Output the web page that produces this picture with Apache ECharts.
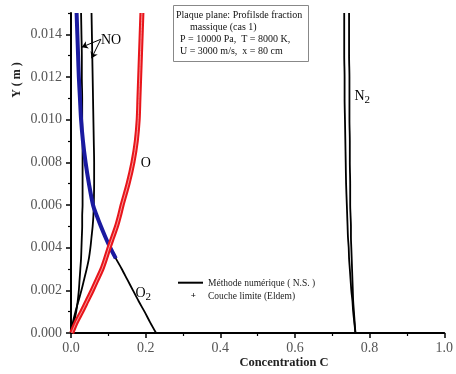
<!DOCTYPE html>
<html>
<head>
<meta charset="utf-8">
<script src="https://cdn.jsdelivr.net/npm/echarts@6/dist/echarts.min.js"></script>
<style>
  html, body { margin: 0; padding: 0; background: #fff; }
  #chart { width: 456px; height: 374px; }
</style>
</head>
<body>
<div id="chart"></div>
<script>
// Wall-normal positions (m) at which the mass-fraction profiles are sampled
const yLevels = [0, 0.0005, 0.001, 0.0015, 0.002, 0.0025, 0.003, 0.0035, 0.004, 0.0045, 0.005,
                 0.0055, 0.006, 0.007, 0.008, 0.009, 0.010, 0.011, 0.012, 0.013, 0.014, 0.015];

// Numerical (N.S.) mass fractions
const cO2 = [0.228, 0.212, 0.197, 0.181, 0.166, 0.151, 0.136, 0.120, 0.105, 0.092, 0.080,
             0.069, 0.059, 0.048, 0.039, 0.032, 0.027, 0.024, 0.021, 0.019, 0.017, 0.015];
const cO  = [0.002, 0.014, 0.029, 0.043, 0.057, 0.070, 0.083, 0.093, 0.102, 0.112, 0.122,
             0.130, 0.137, 0.153, 0.166, 0.175, 0.180, 0.182, 0.184, 0.186, 0.188, 0.190];
const cNOa = [0.000, 0.008, 0.014, 0.018, 0.021, 0.023, 0.025, 0.027, 0.028, 0.029, 0.030,
              0.030, 0.031, 0.031, 0.031, 0.031, 0.030, 0.030, 0.029, 0.029, 0.028, 0.027];
const cNOb = [0.000, 0.005, 0.012, 0.020, 0.028, 0.035, 0.042, 0.048, 0.052, 0.055, 0.058,
              0.060, 0.061, 0.062, 0.062, 0.061, 0.060, 0.059, 0.058, 0.057, 0.056, 0.055];
const cN2a = [0.762, 0.759, 0.756, 0.754, 0.751, 0.749, 0.747, 0.745, 0.744, 0.742, 0.741,
              0.740, 0.739, 0.737, 0.736, 0.735, 0.734, 0.733, 0.733, 0.732, 0.732, 0.732];
const cN2b = [0.762, 0.760, 0.758, 0.756, 0.755, 0.754, 0.753, 0.752, 0.751, 0.750, 0.750,
              0.749, 0.748, 0.748, 0.747, 0.747, 0.746, 0.746, 0.746, 0.745, 0.745, 0.745];

// Boundary-layer solution (Eldem) for O and O2
const eldemO  = [0.002, 0.014, 0.029, 0.043, 0.057, 0.070, 0.083, 0.093, 0.102, 0.112, 0.122,
                 0.130, 0.137, 0.153, 0.166, 0.175, 0.180, 0.182, 0.184, 0.186, 0.188, 0.190];
const eldemO2 = [null, null, null, null, null, null, null, 0.120, 0.105, 0.092, 0.080,
                 0.069, 0.059, 0.048, 0.039, 0.032, 0.027, 0.024, 0.021, 0.019, 0.017, 0.015];

// Axis ticks
const xTicks = [0, 0.2, 0.4, 0.6, 0.8, 1.0];
const yTicks = [0, 0.002, 0.004, 0.006, 0.008, 0.010, 0.012, 0.014];
const yMinorTicks = [0.001, 0.003, 0.005, 0.007, 0.009, 0.011, 0.013, 0.015];

// Species labels and the NO pointer
const speciesLabels = [
  { main: 'NO', sub: '',  at: [0.107, 0.01374] },
  { main: 'O',  sub: '',  at: [0.200, 0.00797] },
  { main: 'O',  sub: '2', at: [0.194, 0.00186] },
  { main: 'N',  sub: '2', at: [0.781, 0.01110] }
];
const noArrowFrom = [0.080, 0.01377];
const noArrowTips = [[0.029, 0.01340], [0.055, 0.01288]];

// Box annotation
const caseLines = [
  { text: 'Plaque plane: Profilsde fraction', indent: 3 },
  { text: 'massique (cas 1)', indent: 17 },
  { text: 'P = 10000 Pa,  T = 8000 K,', indent: 7 },
  { text: 'U = 3000 m/s,  x = 80 cm', indent: 7 }
];
const legendNames = ['Méthode numérique ( N.S. )', 'Couche limite (Eldem)'];

const SERIF = '"Liberation Serif", "DejaVu Serif", serif';

function pairs(xs) {
  const out = [];
  xs.forEach((x, i) => { if (x !== null) out.push([x, yLevels[i]]); });
  return out;
}

function blackLine(name, xs, extra) {
  return Object.assign({
    name: name, type: 'line', data: pairs(xs), showSymbol: false, symbol: 'none',
    smooth: 0.3, lineStyle: { color: '#000', width: 1.8 }, z: 3, animation: false
  }, extra || {});
}

const chart = echarts.init(document.getElementById('chart'), null, { renderer: 'canvas' });

const option = {
  backgroundColor: '#fff',
  animation: false,
  grid: { left: 71, right: 10, top: 13, bottom: 41 },
  xAxis: {
    type: 'value', min: 0, max: 1, interval: 0.2,
    axisLine: { show: true, lineStyle: { color: '#000', width: 2 } },
    axisTick: { show: true, length: 5, lineStyle: { color: '#000', width: 1.5 }, customValues: xTicks },
    minorTick: { show: true, splitNumber: 2, length: 3, lineStyle: { color: '#000', width: 1.2 } },
    axisLabel: {
      customValues: xTicks, formatter: v => v.toFixed(1), margin: 8,
      fontFamily: SERIF, fontSize: 14, color: '#555'
    },
    splitLine: { show: false }
  },
  yAxis: [{
    type: 'value', min: 0, max: 0.015, interval: 0.002,
    axisLine: { show: true, lineStyle: { color: '#000', width: 2 } },
    axisTick: { show: true, length: 5, lineStyle: { color: '#000', width: 1.5 }, customValues: yTicks },
    axisLabel: {
      customValues: yTicks, formatter: v => v.toFixed(3), margin: 9,
      fontFamily: SERIF, fontSize: 14, color: '#555'
    },
    splitLine: { show: false }
  }, {
    type: 'value', min: 0, max: 0.015, position: 'left', offset: 0,
    axisLine: { show: false },
    axisTick: { show: true, length: 3, lineStyle: { color: '#000', width: 1.2 }, customValues: yMinorTicks },
    axisLabel: { show: false },
    splitLine: { show: false }
  }],
  series: [
    blackLine(legendNames[0], cN2a),
    blackLine(legendNames[0], cN2b),
    blackLine(legendNames[0], cNOb),
    blackLine(legendNames[0], cNOa, {
      markLine: {
        silent: true, symbol: ['none', 'arrow'], symbolSize: 6, animation: false,
        label: { show: false },
        lineStyle: { color: '#000', width: 1, type: 'solid' },
        data: noArrowTips.map(t => [{ coord: noArrowFrom }, { coord: t }])
      }
    }),
    blackLine(legendNames[0], cO2),
    blackLine(legendNames[0], cO),
    {
      name: legendNames[1], type: 'line', data: pairs(eldemO2), symbol: 'none', smooth: 0.3,
      lineStyle: { color: '#1a1aa0', width: 4 }, z: 4, animation: false
    },
    {
      name: legendNames[1], type: 'line', data: pairs(eldemO), symbol: 'none', smooth: 0.3,
      lineStyle: { color: '#e8151b', width: 5 }, z: 4, animation: false
    },
    {
      name: legendNames[1], type: 'line', data: pairs(eldemO), symbol: 'none', smooth: 0.3,
      lineStyle: { color: '#ffd6d6', width: 0.7 }, z: 5, animation: false
    }
  ]
};
chart.setOption(option);

// Overlay texts: species labels, axis titles, case box, legend
const toPx = p => chart.convertToPixel({ xAxisIndex: 0, yAxisIndex: 0 }, p);
const graphics = [];

speciesLabels.forEach(l => {
  const p = toPx(l.at);
  const mainW = l.main === 'NO' ? 20 : 10;
  const x0 = p[0] - (mainW + (l.sub ? 6 : 0)) / 2;
  graphics.push({
    type: 'text', x: x0, y: p[1], z: 10,
    style: { text: l.main, font: '14px ' + SERIF, fill: '#000', align: 'left', verticalAlign: 'middle' }
  });
  if (l.sub) {
    graphics.push({
      type: 'text', x: x0 + mainW, y: p[1] + 4, z: 10,
      style: { text: l.sub, font: '11px ' + SERIF, fill: '#000', align: 'left', verticalAlign: 'middle' }
    });
  }
});

// Axis titles
graphics.push({
  type: 'text', x: 16.5, y: 80, rotation: Math.PI / 2, z: 10,
  style: { text: 'Y ( m )', font: 'bold 12px ' + SERIF, fill: '#222', align: 'center', verticalAlign: 'middle' }
});
graphics.push({
  type: 'text', x: 284, y: 363, z: 10,
  style: { text: 'Concentration C', font: 'bold 12.5px ' + SERIF, fill: '#222', align: 'center', verticalAlign: 'middle' }
});

// Case description box
graphics.push({
  type: 'rect', shape: { x: 173.5, y: 5.5, width: 135, height: 56 }, z: 9,
  style: { fill: '#fff', stroke: '#888', lineWidth: 1 }
});
caseLines.forEach((ln, i) => {
  graphics.push({
    type: 'text', x: 173 + ln.indent, y: 15 + i * 12.2, z: 10,
    style: { text: ln.text, font: '10px ' + SERIF, fill: '#111', align: 'left', verticalAlign: 'middle' }
  });
});

// Legend
graphics.push({
  type: 'line', shape: { x1: 178, y1: 282.7, x2: 203, y2: 282.7 }, z: 10,
  style: { stroke: '#000', lineWidth: 2 }
});
graphics.push({
  type: 'text', x: 193.3, y: 296, z: 10,
  style: { text: '+', font: 'bold 9px ' + SERIF, fill: '#000', align: 'center', verticalAlign: 'middle' }
});
legendNames.forEach((n, i) => {
  graphics.push({
    type: 'text', x: 208, y: 283 + i * 13, z: 10,
    style: { text: n, font: '9.5px ' + SERIF, fill: '#222', align: 'left', verticalAlign: 'middle' }
  });
});

chart.setOption({ graphic: graphics });
</script>
</body>
</html>
